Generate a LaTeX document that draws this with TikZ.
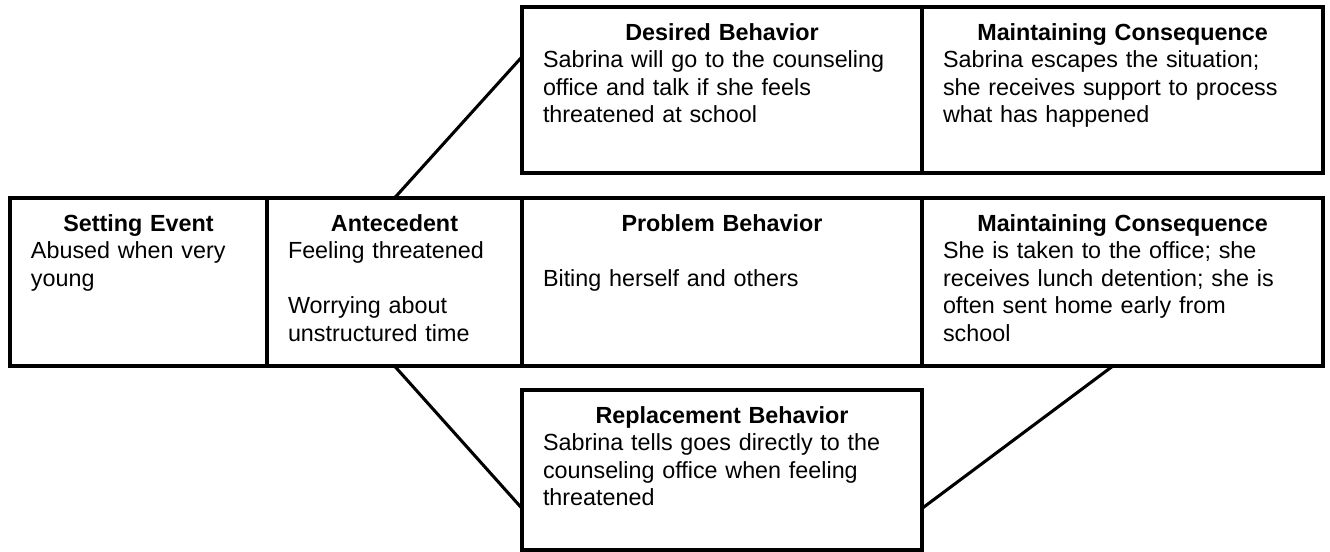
\documentclass[tikz,border=0pt]{standalone}
\usepackage{fontspec}
\setmainfont{Liberation Sans}
\usetikzlibrary{calc}
\tikzset{
  box/.style={draw, line width=2.3pt, outer sep=0pt, inner sep=0pt, anchor=north west},
  txt/.style={anchor=north west, inner sep=0pt, outer sep=0pt, align=left,
    font=\fontsize{17.5}{20.6}\selectfont},
  conn/.style={line width=2.3pt},
}
\newcommand{\boxtitle}[1]{\makebox[\linewidth]{\strut\textbf{#1}}}
\begin{document}
\begin{tikzpicture}[x=0.75pt,y=-0.75pt]
\useasboundingbox (0,0) rectangle (1330,552);
% boxes
\node[box, minimum width=300pt,    minimum height=124.5pt] (des)  at (522,7) {};
\node[box, minimum width=300.75pt, minimum height=124.5pt] (mc1)  at (922,7) {};
\node[box, minimum width=192.75pt, minimum height=126pt]   (set)  at (10,198) {};
\node[box, minimum width=191.25pt, minimum height=126pt]   (ant)  at (267,198) {};
\node[box, minimum width=300pt,    minimum height=126pt]   (prob) at (522,198) {};
\node[box, minimum width=300.75pt, minimum height=126pt]   (mc2)  at (922,198) {};
\node[box, minimum width=300pt,    minimum height=120pt]   (rep)  at (522,390) {};
% texts
\node[txt, text width=268.5pt] (desT) at ($(des.north west)+(21,14)$)
  {\boxtitle{Desired Behavior}\\Sabrina will go to the counseling\\office and talk if she feels\\threatened at school};
\node[txt, text width=269.25pt] (mc1T) at ($(mc1.north west)+(21,14)$)
  {\boxtitle{Maintaining Consequence}\\Sabrina escapes the situation;\\she receives support to process\\what has happened};
\node[txt, text width=161.25pt] (setT) at ($(set.north west)+(21,14)$)
  {\boxtitle{Setting Event}\\Abused when very\\young};
\node[txt, text width=159.75pt] (antT) at ($(ant.north west)+(21,14)$)
  {\boxtitle{Antecedent}\\Feeling threatened\\\strut\\Worrying about\\unstructured time};
\node[txt, text width=268.5pt] (probT) at ($(prob.north west)+(21,14)$)
  {\boxtitle{Problem Behavior}\\\strut\\Biting herself and others};
\node[txt, text width=269.25pt] (mc2T) at ($(mc2.north west)+(21,14)$)
  {\boxtitle{Maintaining Consequence}\\She is taken to the office; she\\receives lunch detention; she is\\often sent home early from\\school};
\node[txt, text width=268.5pt] (repT) at ($(rep.north west)+(21,14)$)
  {\boxtitle{Replacement Behavior}\\Sabrina tells goes directly to the\\counseling office when feeling\\threatened};
% connectors
\coordinate (desL) at ($(des.north west)!0.3!(des.south west)$);
\coordinate (repL) at ($(rep.north west)!0.74!(rep.south west)$);
\coordinate (repR) at ($(rep.north east)!0.74!(rep.south east)$);
\coordinate (mc2B) at ($(mc2.south west)!0.476!(mc2.south east)$);
\draw[conn] (ant.north) -- (desL);
\draw[conn] (ant.south) -- (repL);
\draw[conn] (repR) -- (mc2B);
\end{tikzpicture}
\end{document}
